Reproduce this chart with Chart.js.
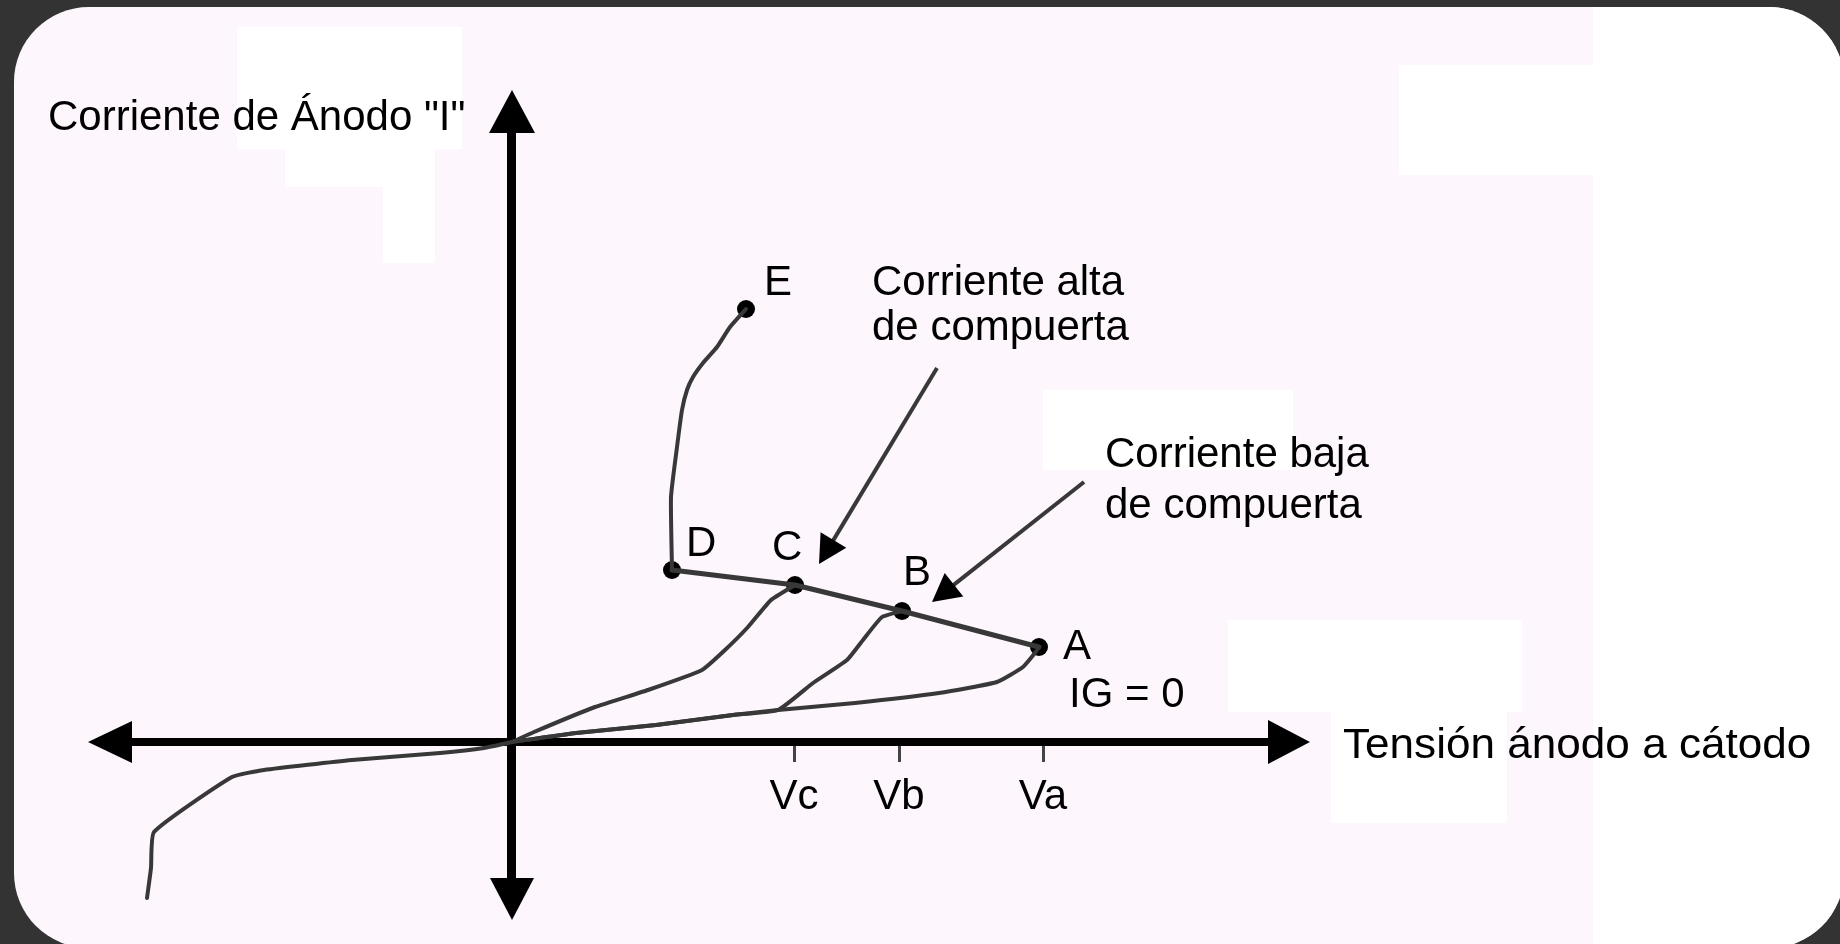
<!DOCTYPE html>
<html>
<head>
<meta charset="utf-8">
<title>Característica del SCR</title>
<script src="https://cdn.jsdelivr.net/npm/chart.js@4.4.1/dist/chart.umd.min.js"></script>
<style>
  html, body { margin: 0; padding: 0; background: #333333; }
  #wrap { position: relative; width: 1840px; height: 944px; overflow: hidden; }
  #panel { position: absolute; left: 14px; top: 7px; width: 1830px; height: 941px;
           border-radius: 75px; background: #fdf6fd; overflow: hidden; }
  .patch { position: absolute; background: #ffffff; }
  #chart { position: absolute; left: 0; top: 0; }
</style>
</head>
<body>
<div id="wrap">
  <div id="panel">
    <!-- white erased patches of the original scan -->
    <div class="patch" style="left:1579px;top:0;width:300px;height:960px"></div>
    <div class="patch" style="left:1385px;top:58px;width:200px;height:110px"></div>
    <div class="patch" style="left:223px;top:20px;width:225px;height:122px"></div>
    <div class="patch" style="left:271px;top:142px;width:150px;height:38px"></div>
    <div class="patch" style="left:369px;top:180px;width:52px;height:76px"></div>
    <div class="patch" style="left:1029px;top:383px;width:250px;height:80px"></div>
    <div class="patch" style="left:1214px;top:613px;width:294px;height:92px"></div>
    <div class="patch" style="left:1317px;top:705px;width:176px;height:111px"></div>
  </div>
  <canvas id="chart" width="1840" height="944"></canvas>
</div>
<script>
// tensión ánodo-cátodo (x) / corriente de ánodo (y), arbitrary units

// reverse blocking region
const reverseV = [-7.3, -7.22, -7.16, -5.6, -4.96, -3.2, -1.44, -0.56, 0];
const reverseI = [-3.12, -2.52, -1.8, -0.7, -0.56, -0.36, -0.22, -0.12, 0];

// IG = 0, up to breakover point A
const gateZeroV = [0, 1.28, 2.88, 4.42, 5.32, 6.86, 8.54, 9.7, 10.22, 10.46, 10.54];
const gateZeroI = [0, 0.18, 0.34, 0.54, 0.64, 0.78, 0.98, 1.2, 1.5, 1.78, 1.9];

// low gate current, up to B
const gateLowV = [0, 1.28, 2.88, 4.42, 5.32, 6.02, 6.7, 7.02, 7.4, 7.8];
const gateLowI = [0, 0.18, 0.34, 0.54, 0.64, 1.18, 1.64, 2.04, 2.5, 2.62];

// high gate current, up to C
const gateHighV = [0, 0.44, 1.66, 2.72, 3.8, 4.26, 4.72, 5.18, 5.66];
const gateHighI = [0, 0.2, 0.7, 1.04, 1.44, 1.84, 2.3, 2.84, 3.14];

// conduction branch D -> E
const onStateV = [3.2, 3.18, 3.3, 3.4, 3.5, 3.62, 3.82, 4.1, 4.36, 4.68];
const onStateI = [3.44, 4.9, 5.9, 6.64, 7.04, 7.3, 7.58, 7.9, 8.3, 8.66];

// marked points
const pointNames = ['A', 'B', 'C', 'D', 'E'];
const pointV = [10.54, 7.8, 5.66, 3.2, 4.68];
const pointI = [1.9, 2.62, 3.14, 3.44, 8.66];

// negative resistance line D - C - B - A
const jumpOrder = ['D', 'C', 'B', 'A'];

// voltage ticks
const tickNames = ['Vc', 'Vb', 'Va'];
const tickV = [5.64, 7.74, 10.62];

// callout arrows (tail -> head)
const arrowTailV = [8.5, 11.44];
const arrowTailI = [7.48, 5.2];
const arrowHeadV = [6.14, 8.4];
const arrowHeadI = [3.56, 2.8];

// free texts, left edge + baseline
const noteTexts = ['Corriente de Ánodo "I"', 'Tensión ánodo a cátodo',
  'Corriente alta', 'de compuerta', 'Corriente baja', 'de compuerta', 'IG = 0'];
const noteV = [-9.28, 16.62, 7.2, 7.2, 11.86, 11.86, 11.14];
const noteI = [12.24, -0.32, 8.94, 8.04, 5.5, 4.48, 0.7];

const toXY = (xs, ys) => xs.map((x, i) => ({ x: x, y: ys[i] }));

const FONT = '42px "Liberation Sans", Arial, sans-serif';
const LINE = '#383838';
const AXIS_OVERHANG = 14; // arrow tip sits this far beyond the axis line end
// label offsets in px for A..E
const pointLabelOffset = { A: [24, 12], B: [1, -26], C: [-23, -25], D: [14, -14], E: [18, -14] };

const curve = (data, tension) => ({
  data: data, showLine: true, borderColor: LINE, borderWidth: 4,
  pointRadius: 0, tension: tension, borderCapStyle: 'round', borderJoinStyle: 'round'
});

const jumpData = jumpOrder.map(n => {
  const i = pointNames.indexOf(n);
  return { x: pointV[i], y: pointI[i] };
});

const decorPlugin = {
  id: 'decor',
  afterDatasetsDraw(chart) {
    const ctx = chart.ctx;
    const xs = chart.scales.x, ys = chart.scales.y;
    const area = chart.chartArea;
    const ox = xs.getPixelForValue(0), oy = ys.getPixelForValue(0);

    ctx.save();
    ctx.fillStyle = '#000';
    const tri = (tx, ty, dx, dy, len, half) => {
      // tip at (tx,ty), pointing along (dx,dy)
      const bx = tx - dx * len, by = ty - dy * len;
      ctx.beginPath();
      ctx.moveTo(tx, ty);
      ctx.lineTo(bx - dy * half, by + dx * half);
      ctx.lineTo(bx + dy * half, by - dx * half);
      ctx.closePath();
      ctx.fill();
    };
    // axis arrow heads
    const o = AXIS_OVERHANG;
    tri(area.left - o, oy, -1, 0, 44, 21);
    tri(area.right + o, oy, 1, 0, 42, 22);
    tri(ox, area.top - o, 0, -1, 43, 23);
    tri(ox, area.bottom + o, 0, 1, 42, 22);

    // callout arrows
    ctx.strokeStyle = LINE;
    ctx.lineWidth = 4;
    for (let i = 0; i < arrowTailV.length; i++) {
      const x1 = xs.getPixelForValue(arrowTailV[i]), y1 = ys.getPixelForValue(arrowTailI[i]);
      const x2 = xs.getPixelForValue(arrowHeadV[i]), y2 = ys.getPixelForValue(arrowHeadI[i]);
      const len = Math.hypot(x2 - x1, y2 - y1);
      const dx = (x2 - x1) / len, dy = (y2 - y1) / len;
      ctx.beginPath();
      ctx.moveTo(x1, y1);
      ctx.lineTo(x2 - dx * 20, y2 - dy * 20);
      ctx.stroke();
      tri(x2, y2, dx, dy, 28, 15);
    }

    // texts
    ctx.font = FONT;
    ctx.fillStyle = '#000';
    ctx.textAlign = 'left';
    ctx.textBaseline = 'alphabetic';
    for (let i = 0; i < noteTexts.length; i++) {
      const px = xs.getPixelForValue(noteV[i]), py = ys.getPixelForValue(noteI[i]);
      if (noteTexts[i].startsWith('Tensión')) {
        // the original lettering is a little wider here
        ctx.save();
        ctx.translate(px, py);
        ctx.scale(1.05, 1);
        ctx.fillText(noteTexts[i], 0, 0);
        ctx.restore();
      } else {
        ctx.fillText(noteTexts[i], px, py);
      }
    }
    for (let i = 0; i < pointNames.length; i++) {
      const off = pointLabelOffset[pointNames[i]];
      ctx.fillText(pointNames[i], xs.getPixelForValue(pointV[i]) + off[0], ys.getPixelForValue(pointI[i]) + off[1]);
    }
    ctx.restore();
  }
};

const chart = new Chart(document.getElementById('chart'), {
  type: 'scatter',
  data: {
    datasets: [
      curve(toXY(reverseV, reverseI), 0.15),
      curve(toXY(gateZeroV, gateZeroI), 0.15),
      curve(toXY(gateLowV, gateLowI), 0.15),
      curve(toXY(gateHighV, gateHighI), 0.15),
      curve(toXY(onStateV, onStateI), 0.15),
      Object.assign(curve(jumpData, 0), { borderWidth: 5 }),
      {
        data: toXY(pointV, pointI), showLine: false,
        pointRadius: 9, pointBackgroundColor: '#000', pointBorderWidth: 0
      }
    ]
  },
  options: {
    responsive: false,
    animation: false,
    clip: false,
    layout: { padding: { left: 102, right: 544, top: 104, bottom: 38 } },
    plugins: { legend: { display: false }, tooltip: { enabled: false } },
    scales: {
      x: {
        type: 'linear', position: { y: 0 }, min: -8.2, max: 15.68,
        border: { display: true, width: 8, color: '#000' },
        grid: { drawOnChartArea: false, drawTicks: true, tickLength: 16, tickWidth: 3, tickColor: '#444' },
        afterBuildTicks: (scale) => { scale.ticks = tickV.map(v => ({ value: v })); },
        ticks: {
          autoSkip: false, maxRotation: 0, minRotation: 0, padding: 14, color: '#000',
          font: { family: '"Liberation Sans", Arial, sans-serif', size: 42 },
          callback: (value, index) => tickNames[index]
        }
      },
      y: {
        type: 'linear', position: { x: 0 }, min: -3.28, max: 12.76,
        border: { display: true, width: 9, color: '#000' },
        grid: { display: false },
        ticks: { display: false }
      }
    }
  },
  plugins: [decorPlugin]
});
</script>
</body>
</html>
